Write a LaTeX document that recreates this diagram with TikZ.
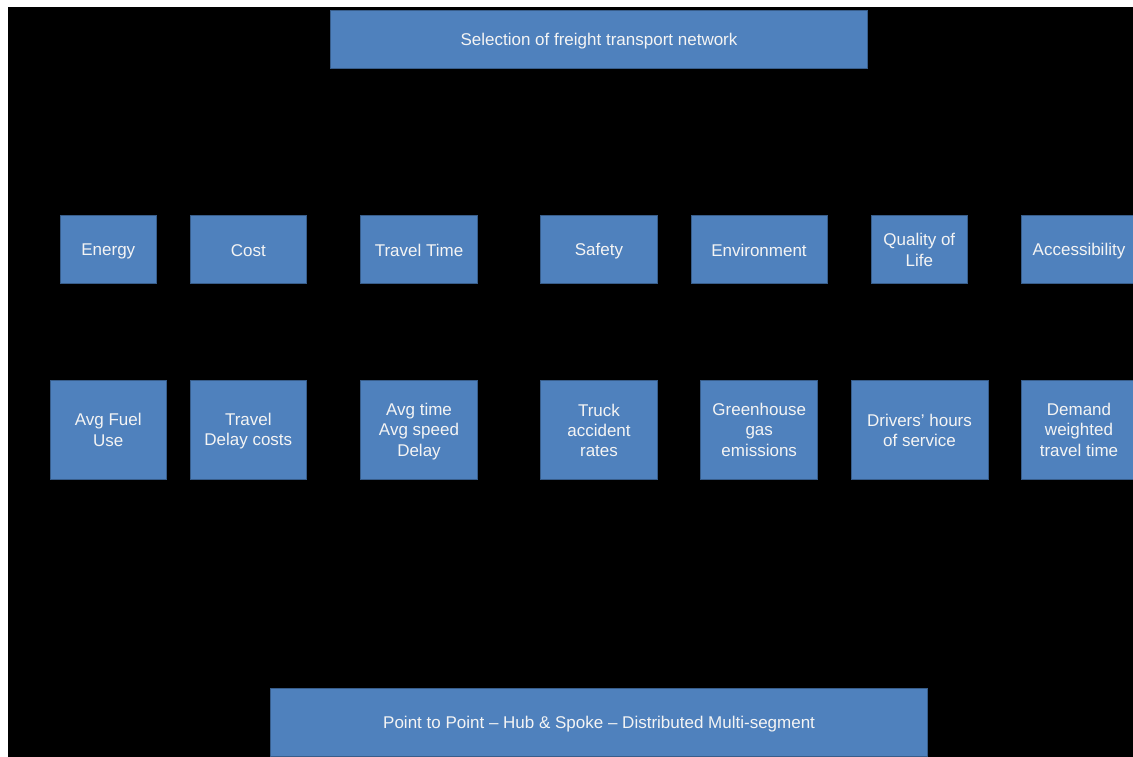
\documentclass[tikz,border=0pt]{standalone}
\usepackage{fontspec}
\usepackage{array}
\setmainfont{Liberation Sans}
\definecolor{boxblue}{HTML}{4F81BD}
\definecolor{boxedge}{HTML}{385D8A}
\definecolor{boxtext}{HTML}{F4F4F4}
% every text line in a box gets the same height and depth (20pt pitch)
\newcommand\panelstrut{\rule[-3.5pt]{0pt}{20pt}}
\newcommand\paneltext[1]{{\renewcommand\arraystretch{0}%
  \begin{tabular}{@{}>{\panelstrut}c@{}}#1\end{tabular}}}
\tikzset{
  panel/.style={fill=boxblue, draw=boxedge, line width=0.8pt, text=boxtext,
    inner sep=0pt, anchor=center,
    font=\fontsize{17}{20}\selectfont},
  crit/.style={panel, minimum height=68},
  meas/.style={panel, minimum height=99}
}
\begin{document}
\begin{tikzpicture}[x=1pt, y=-1pt]
  % page and dark backdrop
  \useasboundingbox (0,0) rectangle (1133,757);
  \fill[white] (0,0) rectangle (1133,757);
  \fill[black] (8,7) rectangle (1133,757);
  \clip (8,7) rectangle (1133,757);

  % goal
  \node[panel, minimum width=537, minimum height=58] (goal) at (599,39.5)
    {\paneltext{Selection of freight transport network}};

  % criteria
  \node[crit, minimum width=96.5]  (energy) at (108.3,249.5) {\paneltext{Energy}};
  \node[crit, minimum width=116.5] (cost)   at (248.3,249.5) {\paneltext{Cost}};
  \node[crit, minimum width=117]   (ttime)  at (419,249.5)   {\paneltext{Travel Time}};
  \node[crit, minimum width=116.6] (safety) at (599,249.5)   {\paneltext{Safety}};
  \node[crit, minimum width=136]   (env)    at (759,249.5)   {\paneltext{Environment}};
  \node[crit, minimum width=96.7]  (qol)    at (919.3,249.5) {\paneltext{Quality of\\Life}};
  \node[crit, minimum width=116]   (access) at (1079,249.5)  {\paneltext{Accessibility}};

  % measures
  \node[meas, minimum width=116.7] (fuel)   at (108.3,429.5) {\paneltext{Avg Fuel\\Use}};
  \node[meas, minimum width=116.5] (delay)  at (248.3,429.5) {\paneltext{Travel\\Delay costs}};
  \node[meas, minimum width=117]   (avgt)   at (419,429.5)   {\paneltext{Avg time\\Avg speed\\Delay}};
  \node[meas, minimum width=116.6] (truck)  at (599,429.5)   {\paneltext{Truck\\accident\\rates}};
  \node[meas, minimum width=117]   (ghg)    at (759.2,429.5) {\paneltext{Greenhouse\\gas\\emissions}};
  \node[meas, minimum width=137]   (hours)  at (919.5,429.5) {\paneltext{Drivers’ hours\\of service}};
  \node[meas, minimum width=116]   (demand) at (1079,429.5)  {\paneltext{Demand\\weighted\\travel time}};

  % alternatives
  \node[panel, minimum width=657, minimum height=68] (alts) at (599.1,722)
    {\paneltext{Point to Point – Hub \& Spoke – Distributed Multi-segment}};
\end{tikzpicture}
\end{document}
